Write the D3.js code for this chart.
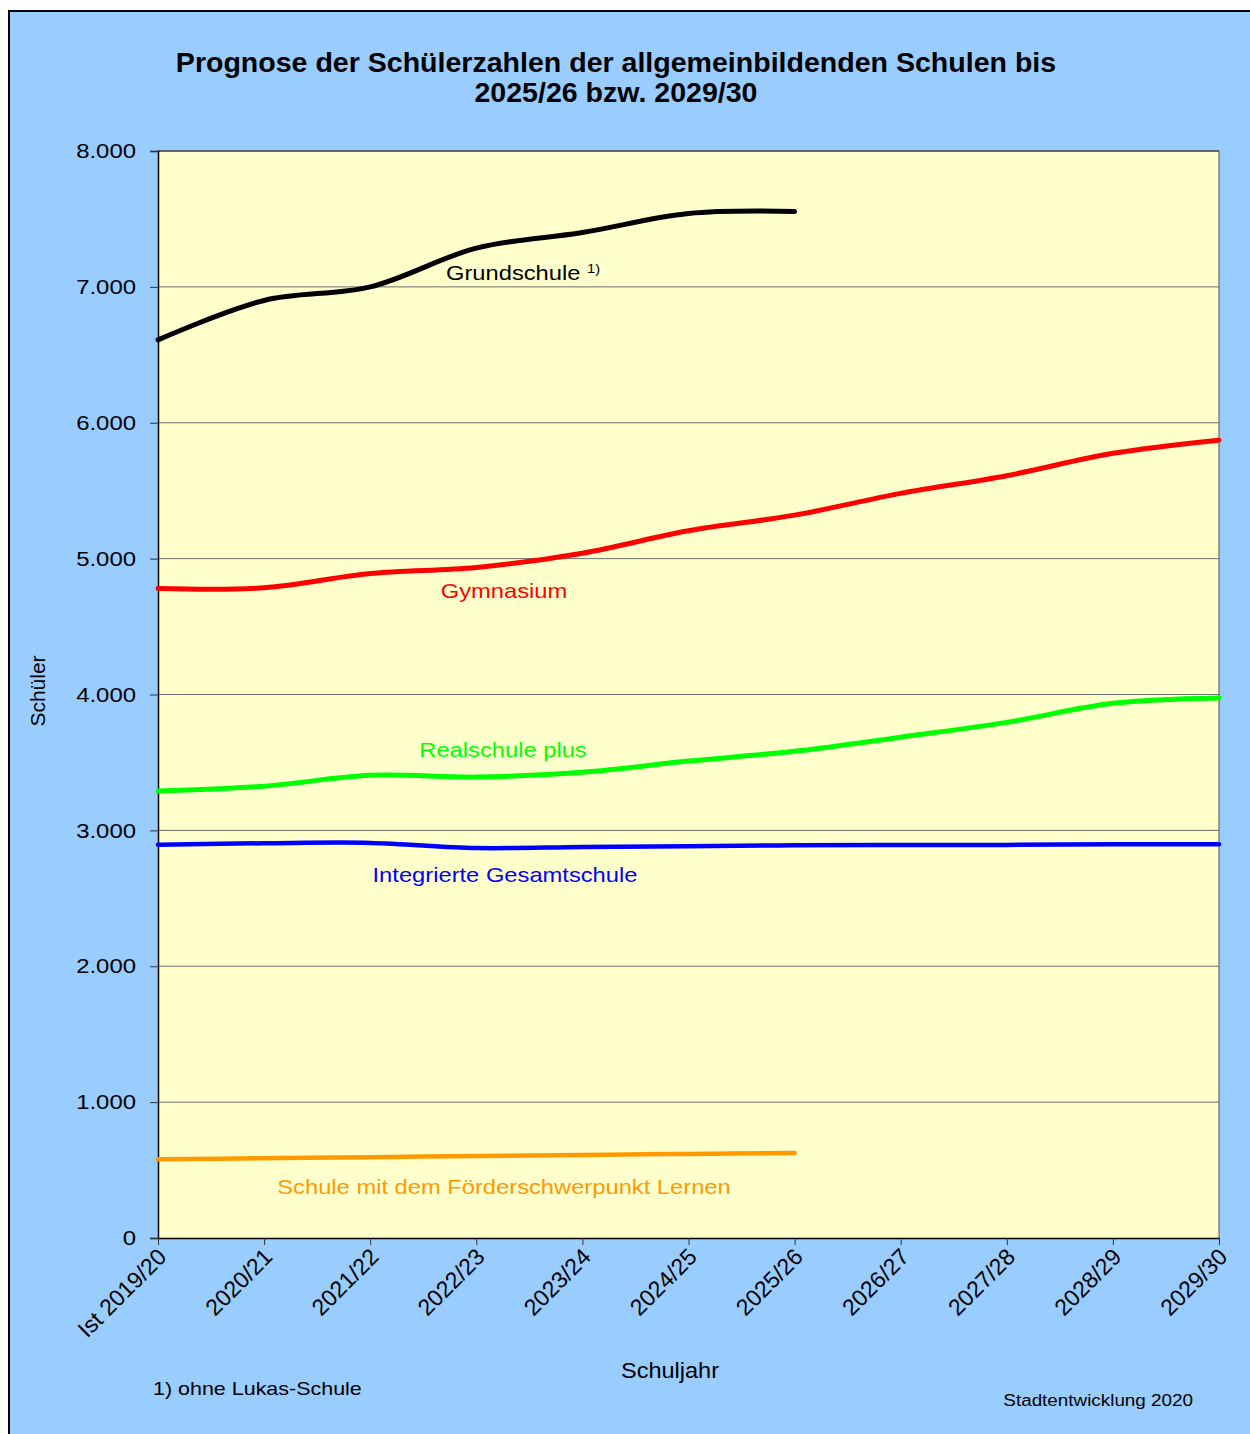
<!DOCTYPE html>
<html lang="de">
<head>
    <meta charset="UTF-8">
    <title>Prognose der Schülerzahlen</title>
    <script src="https://d3js.org/d3.v7.min.js"></script>
    <style>
        body {
            margin: 0;
            padding: 0;
            background-color: white;
            font-family: 'Liberation Sans', Arial, sans-serif;
        }
    </style>
</head>
<body>
    <div id="chart"></div>
    <script>
        // Schuljahre (x-Achse)
        var years = ['Ist 2019/20', '2020/21', '2021/22', '2022/23', '2023/24', '2024/25',
                     '2025/26', '2026/27', '2027/28', '2028/29', '2029/30'];

        // Schülerzahlen je Schulart
        var grundschule = [6610, 6900, 7000, 7285, 7400, 7540, 7555];
        var gymnasium = [4780, 4785, 4890, 4935, 5040, 5205, 5320, 5480, 5610, 5775, 5872];
        var realschulePlus = [3290, 3325, 3405, 3392, 3428, 3510, 3582, 3686, 3795, 3935, 3975];
        var igs = [2895, 2905, 2908, 2870, 2878, 2884, 2890, 2893, 2893, 2898, 2898];
        var foerderschule = [580, 587, 595, 603, 611, 619, 625];

        var yTicks = [0, 1000, 2000, 3000, 4000, 5000, 6000, 7000, 8000];

        var width = 1250, height = 1434;
        var plot = { left: 158, right: 1219, top: 151, bottom: 1238 };

        var svg = d3.select("#chart")
            .append("svg")
            .attr("width", width)
            .attr("height", height);

        // Text mit leichter horizontaler Streckung (wie im Original)
        function addText(x, y, txt, size, sx, anchor, color, bold) {
            return svg.append("text")
                .attr("transform", "translate(" + x + "," + y + ") scale(" + sx + ",1)")
                .attr("text-anchor", anchor)
                .attr("fill", color || "#000")
                .style("font-size", size + "px")
                .style("font-weight", bold ? "bold" : "normal")
                .text(txt);
        }

        // Hintergrund
        svg.append("rect")
            .attr("x", 9).attr("y", 11)
            .attr("width", 1260).attr("height", 1440)
            .attr("fill", "#99ccff")
            .attr("stroke", "#000")
            .attr("stroke-width", 2);

        svg.append("rect")
            .attr("x", plot.left).attr("y", plot.top)
            .attr("width", plot.right - plot.left)
            .attr("height", plot.bottom - plot.top)
            .attr("fill", "#ffffcc");

        var x = d3.scalePoint()
            .domain(years)
            .range([plot.left, plot.right]);

        var y = d3.scaleLinear()
            .domain([0, 8000])
            .range([plot.bottom, plot.top]);

        var fmt = function (d) { return d === 0 ? "0" : d3.format(",")(d).replace(/,/g, "."); };

        // Gitterlinien
        svg.append("g")
            .selectAll("line")
            .data(yTicks.slice(1))
            .enter()
            .append("line")
            .attr("x1", plot.left).attr("x2", plot.right)
            .attr("y1", function (d) { return y(d); })
            .attr("y2", function (d) { return y(d); })
            .attr("stroke", "#6e6e6e")
            .attr("stroke-width", 1);

        // Rahmen rechts/oben
        svg.append("line")
            .attr("x1", plot.right).attr("x2", plot.right)
            .attr("y1", plot.top).attr("y2", plot.bottom)
            .attr("stroke", "#555").attr("stroke-width", 1);
        svg.append("line")
            .attr("x1", plot.left).attr("x2", plot.right)
            .attr("y1", plot.top).attr("y2", plot.top)
            .attr("stroke", "#222").attr("stroke-width", 1);

        // Achsen
        var yAxis = svg.append("g")
            .attr("transform", "translate(" + plot.left + ",0)")
            .call(d3.axisLeft(y).tickValues(yTicks).tickFormat(fmt).tickSize(8).tickPadding(0));
        yAxis.select(".domain").attr("stroke", "#000").attr("stroke-width", 1.5);
        yAxis.selectAll(".tick line").attr("stroke", "#333");
        yAxis.selectAll("text")
            .style("font-size", "21px")
            .style("font-family", "'Liberation Sans', Arial, sans-serif")
            .attr("fill", "#000")
            .attr("x", null)
            .attr("transform", "translate(-22,0) scale(1.14,1)");

        var xAxis = svg.append("g")
            .attr("transform", "translate(0," + plot.bottom + ")")
            .call(d3.axisBottom(x).tickSize(7).tickSizeOuter(0));
        xAxis.select(".domain").attr("stroke", "#000").attr("stroke-width", 1.5);
        xAxis.selectAll(".tick line").attr("stroke", "#333");
        xAxis.selectAll("text")
            .style("font-size", "23px")
            .style("font-family", "'Liberation Sans', Arial, sans-serif")
            .attr("fill", "#000")
            .attr("dy", null)
            .attr("y", 0)
            .attr("transform", "translate(5,16) rotate(-45)")
            .style("text-anchor", "end")
            .attr("dominant-baseline", "middle");

        // Linien
        var series = [
            { values: grundschule, color: "#000000", width: 5 },
            { values: gymnasium, color: "#ff0000", width: 5 },
            { values: realschulePlus, color: "#00ff00", width: 5 },
            { values: igs, color: "#0000ff", width: 4.5 },
            { values: foerderschule, color: "#ff9900", width: 4.5 }
        ];

        var line = d3.line()
            .x(function (d, i) { return x(years[i]); })
            .y(function (d) { return y(d); })
            .curve(d3.curveCatmullRom.alpha(0.5));

        svg.append("g")
            .selectAll("path")
            .data(series)
            .enter()
            .append("path")
            .attr("d", function (d) { return line(d.values); })
            .attr("fill", "none")
            .attr("stroke", function (d) { return d.color; })
            .attr("stroke-width", function (d) { return d.width; })
            .attr("stroke-linecap", "round")
            .attr("stroke-linejoin", "round");

        // Beschriftungen der Linien
        addText(504, 598, "Gymnasium", 21, 1.13, "middle", "#ff0000");
        addText(503, 757, "Realschule plus", 21, 1.13, "middle", "#00ff00");
        addText(505, 882, "Integrierte Gesamtschule", 21, 1.13, "middle", "#0000ff");
        addText(504, 1194, "Schule mit dem Förderschwerpunkt Lernen", 21, 1.13, "middle", "#ff9900");

        var gs = addText(446, 280, "", 21, 1.13, "start", "#000");
        gs.append("tspan").text("Grundschule ");
        gs.append("tspan").attr("dy", -7).style("font-size", "13px").text("1)");

        // Titel
        addText(616, 72, "Prognose der Schülerzahlen der allgemeinbildenden Schulen bis", 28, 1.02, "middle", "#000", true);
        addText(616, 102, "2025/26 bzw. 2029/30", 28, 1.02, "middle", "#000", true);

        // Achsentitel
        svg.append("text")
            .attr("transform", "translate(45,691) rotate(-90)")
            .attr("text-anchor", "middle")
            .style("font-size", "21px")
            .text("Schüler");

        addText(670, 1378, "Schuljahr", 22, 1.07, "middle", "#000");

        // Fußnoten
        addText(153, 1395, "1) ohne Lukas-Schule", 19, 1.13, "start", "#000");
        addText(1193, 1406, "Stadtentwicklung 2020", 17, 1.11, "end", "#000");
    </script>
</body>
</html>
